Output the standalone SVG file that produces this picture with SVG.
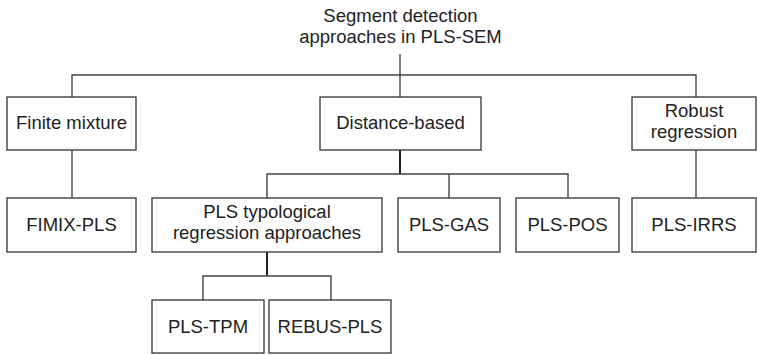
<svg xmlns="http://www.w3.org/2000/svg" width="757" height="355" viewBox="0 0 757 355">
<style>
  .box { fill: #ffffff; stroke: #333333; stroke-width: 1.3; }
  .lbl { font-family: "Liberation Sans", Arial, sans-serif; font-size: 18.5px; fill: #222222; text-anchor: middle; }
  .conn { fill: none; stroke: #444444; stroke-width: 1.4; }
  .thick { fill: none; stroke: #222222; stroke-width: 2; }
</style>
<rect width="757" height="355" fill="#ffffff"/>
<g id="connectors">
  <path class="conn" d="M400,54 V97 M72,97 V75 H696 V97 M72,150 V198 M696,150 V198"/>
  <path class="thick" d="M400,150 V174"/>
  <path class="conn" d="M267,198 V174 H568 V198 M449,174 V198"/>
  <path class="thick" d="M267,252 V276"/>
  <path class="conn" d="M203,300 V276 H331 V300"/>
</g>
<g id="root">
  <text class="lbl" x="400.5" y="22">Segment detection</text>
  <text class="lbl" x="400.5" y="43">approaches in PLS-SEM</text>
</g>
<g id="finite-mixture">
  <rect class="box" x="7" y="97" width="129" height="53"/>
  <text class="lbl" x="71.5" y="129">Finite mixture</text>
</g>
<g id="distance-based">
  <rect class="box" x="320" y="97" width="161" height="53"/>
  <text class="lbl" x="400.5" y="129">Distance-based</text>
</g>
<g id="robust-regression">
  <rect class="box" x="632" y="97" width="124" height="53"/>
  <text class="lbl" x="694" y="117">Robust</text>
  <text class="lbl" x="694" y="138">regression</text>
</g>
<g id="fimix-pls">
  <rect class="box" x="7" y="198" width="129" height="54"/>
  <text class="lbl" x="71.5" y="231">FIMIX-PLS</text>
</g>
<g id="pls-typological">
  <rect class="box" x="152" y="198" width="230" height="54"/>
  <text class="lbl" x="267" y="218">PLS typological</text>
  <text class="lbl" x="267" y="239">regression approaches</text>
</g>
<g id="pls-gas">
  <rect class="box" x="398" y="198" width="102" height="54"/>
  <text class="lbl" x="449" y="231">PLS-GAS</text>
</g>
<g id="pls-pos">
  <rect class="box" x="516" y="198" width="103" height="54"/>
  <text class="lbl" x="567.5" y="231">PLS-POS</text>
</g>
<g id="pls-irrs">
  <rect class="box" x="632" y="198" width="124" height="54"/>
  <text class="lbl" x="694" y="231">PLS-IRRS</text>
</g>
<g id="pls-tpm">
  <rect class="box" x="152" y="300" width="112" height="53"/>
  <text class="lbl" x="208" y="333">PLS-TPM</text>
</g>
<g id="rebus-pls">
  <rect class="box" x="269" y="300" width="122" height="53"/>
  <text class="lbl" x="330" y="333">REBUS-PLS</text>
</g>
</svg>
